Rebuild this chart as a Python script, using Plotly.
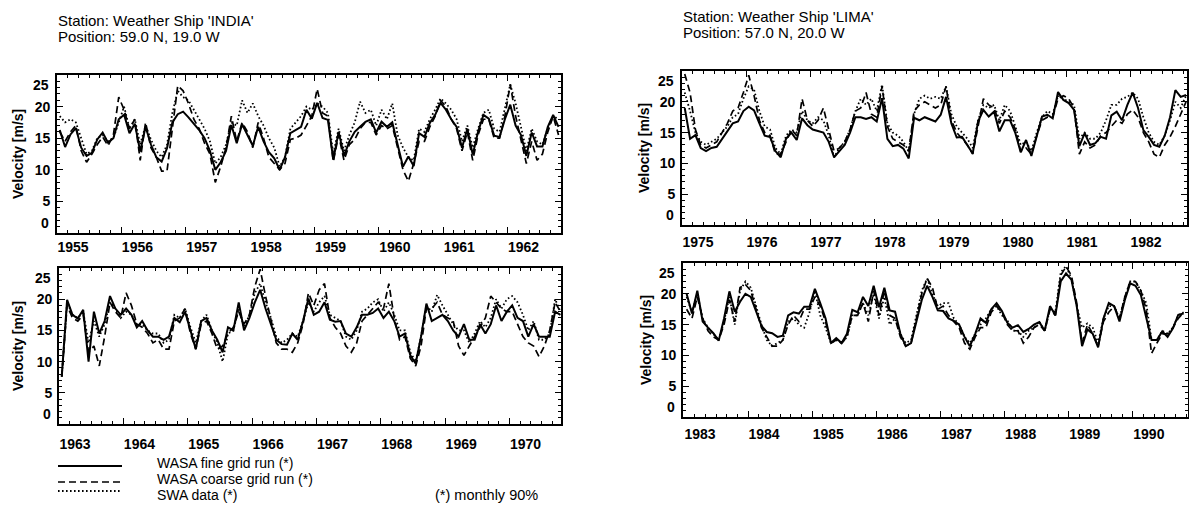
import plotly.graph_objects as go

W, H = 1189, 518

# ---------------- data (monthly 90% wind speed, m/s) ----------------
india1_start = 1955
india1_fine = [16.3, 13.6, 15.6, 16.6, 13.5, 12.2, 12.7, 14.8, 15.9, 14.3, 15.0, 18.0,
               18.7, 15.8, 17.3, 12.9, 16.8, 14.0, 12.0, 11.3, 13.4, 17.5, 18.8, 19.2,
               18.3, 17.3, 16.3, 15.0, 13.0, 10.0, 11.2, 13.0, 17.1, 14.2, 17.2, 15.5,
               13.8, 16.8, 14.5, 12.8, 11.8, 10.0, 12.0, 15.8, 16.3, 16.8, 19.5, 18.1,
               20.6, 18.2, 17.9, 11.6, 16.0, 12.2, 14.5, 16.0, 16.8, 17.6, 18.0, 15.9,
               17.6, 16.8, 17.5, 14.2, 10.5, 12.1, 10.6, 15.8, 15.2, 17.4, 18.7, 20.6,
               19.5, 18.0, 16.8, 13.5, 16.5, 12.4, 16.0, 18.7, 18.1, 15.4, 15.2, 18.0,
               20.3, 17.0, 15.5, 12.2, 15.9, 13.7, 13.7, 16.8, 18.7, 16.8]
india1_coarse = [16.0, 14.5, 16.0, 17.0, 13.0, 11.2, 12.5, 14.0, 15.2, 13.8, 15.5, 21.5,
                 19.5, 16.5, 18.0, 11.5, 17.5, 13.5, 12.0, 9.8, 9.8, 16.5, 23.3, 22.5,
                 20.5, 18.0, 16.5, 14.2, 12.5, 8.0, 10.5, 13.5, 18.5, 14.5, 17.5, 16.0,
                 13.5, 17.5, 15.0, 12.0, 11.0, 10.0, 11.0, 14.8, 15.0, 15.5, 17.0, 18.5,
                 22.8, 19.0, 18.5, 11.3, 15.5, 11.5, 14.0, 14.8, 16.5, 17.5, 17.5, 15.5,
                 17.0, 16.5, 17.0, 13.5, 10.0, 8.2, 11.0, 14.5, 14.5, 16.8, 18.5, 21.0,
                 20.0, 18.0, 16.5, 13.0, 16.0, 11.5, 15.5, 18.0, 18.0, 15.0, 15.0, 18.5,
                 23.5, 18.5, 15.0, 11.0, 14.5, 11.5, 12.5, 16.0, 18.5, 15.5]
india1_swa = [18.5, 17.5, 18.0, 17.5, 15.0, 12.5, 13.0, 15.0, 15.5, 14.5, 15.0, 17.5,
              20.0, 16.5, 18.0, 14.0, 17.0, 14.8, 13.0, 12.0, 14.0, 19.0, 22.5, 21.5,
              21.0, 19.5, 18.0, 16.5, 14.5, 11.0, 12.0, 14.0, 17.5, 17.0, 21.0, 19.0,
              20.5, 18.5, 17.0, 15.0, 13.5, 10.5, 12.0, 16.5, 17.5, 18.5, 20.0, 19.5,
              20.5, 20.0, 19.0, 12.5, 16.5, 13.0, 15.5, 17.5, 20.8, 19.0, 19.5, 17.0,
              19.5, 18.0, 20.5, 15.5, 13.5, 12.0, 11.5, 16.5, 16.0, 18.0, 19.5, 21.3,
              20.5, 19.5, 18.0, 14.5, 17.0, 13.5, 16.5, 19.0, 19.5, 16.5, 16.0, 19.5,
              23.5, 20.5, 17.0, 13.0, 16.5, 14.5, 14.0, 16.5, 18.5, 18.0]

india2_start = 1963
india2_fine = [7.6, 19.9, 17.5, 16.9, 18.3, 10.0, 18.0, 14.5, 16.5, 20.5, 18.5, 17.5,
               18.5, 17.5, 15.5, 16.5, 15.0, 14.0, 14.0, 13.5, 14.0, 17.0, 16.3, 18.0,
               15.0, 12.0, 16.5, 17.0, 15.0, 13.5, 11.5, 15.5, 15.0, 19.5, 15.0, 17.0,
               19.5, 21.5, 18.5, 16.0, 13.5, 12.8, 12.7, 14.5, 13.5, 16.5, 20.1, 17.5,
               18.0, 19.5, 16.7, 16.4, 16.5, 14.5, 14.0, 15.5, 17.5, 17.5, 17.8, 18.5,
               17.0, 18.0, 16.5, 14.0, 14.5, 11.0, 9.7, 14.0, 19.3, 16.5, 17.0, 17.5,
               16.5, 15.0, 14.0, 16.0, 13.5, 13.5, 16.0, 14.5, 16.0, 19.0, 16.5, 18.0,
               19.0, 17.0, 16.5, 14.0, 16.0, 14.0, 14.0, 14.0, 18.0, 17.5]
india2_coarse = [7.6, 19.0, 17.0, 16.5, 17.5, 11.5, 12.5, 9.3, 14.0, 19.5, 18.0, 17.0,
                 21.0, 19.0, 16.0, 15.5, 14.5, 13.0, 13.5, 12.0, 12.0, 16.5, 17.0, 18.5,
                 14.5, 12.0, 16.0, 16.5, 14.5, 12.0, 12.5, 14.5, 15.5, 18.0, 16.0, 17.5,
                 22.0, 24.8, 20.5, 16.5, 13.0, 12.0, 12.0, 11.5, 13.0, 16.0, 21.0, 19.0,
                 21.5, 22.5, 17.0, 15.5, 14.5, 12.5, 11.5, 13.0, 16.5, 17.5, 18.5, 19.5,
                 18.5, 22.5, 17.0, 13.5, 14.0, 10.5, 9.3, 12.5, 18.5, 18.5, 19.5, 17.5,
                 17.0, 16.5, 12.5, 11.0, 12.5, 14.0, 15.5, 17.0, 20.5, 19.5, 18.5, 18.0,
                 18.0, 16.0, 14.0, 13.0, 12.5, 10.8, 12.5, 15.0, 19.5, 18.0]
india2_swa = [7.6, 19.5, 17.5, 17.0, 18.0, 13.0, 16.5, 14.0, 16.0, 19.5, 18.5, 17.0,
              18.0, 17.5, 16.0, 16.0, 15.0, 14.5, 14.5, 13.0, 13.5, 17.5, 17.0, 18.5,
              15.5, 13.0, 16.5, 17.5, 15.0, 13.0, 10.0, 14.5, 15.0, 18.5, 15.5, 17.5,
              21.0, 22.5, 19.5, 17.0, 14.0, 13.0, 13.5, 14.5, 14.0, 16.5, 19.5, 18.0,
              19.5, 20.5, 17.5, 17.0, 16.5, 14.0, 13.5, 15.0, 18.0, 18.5, 19.5, 20.0,
              18.0, 19.5, 17.5, 15.0, 15.0, 11.5, 10.0, 14.0, 19.0, 18.0, 20.7, 19.0,
              17.5, 16.0, 15.0, 15.0, 13.0, 14.5, 16.5, 15.5, 17.0, 20.0, 18.5, 20.0,
              20.5, 19.5, 17.5, 15.0, 16.5, 13.5, 13.5, 14.5, 20.0, 18.0]

lima1_start = 1975
lima1_fine = [19.0, 14.0, 14.6, 12.5, 12.0, 12.5, 12.7, 14.0, 15.2, 16.5, 16.8, 18.5,
              19.2, 18.6, 16.5, 14.5, 14.3, 12.0, 11.0, 14.0, 15.0, 13.8, 17.3, 16.2,
              15.5, 15.3, 15.0, 13.5, 11.0, 12.0, 13.0, 15.0, 17.5, 17.5, 17.2, 17.5,
              16.8, 20.6, 14.0, 12.8, 13.0, 12.4, 10.8, 17.4, 17.0, 17.5, 17.2, 16.8,
              17.9, 20.8, 16.5, 14.2, 14.3, 13.0, 11.6, 16.8, 18.7, 17.6, 18.4, 15.2,
              17.0, 17.0, 14.9, 11.8, 13.8, 11.2, 14.6, 17.6, 17.9, 17.3, 21.6, 20.3,
              19.8, 18.7, 12.8, 14.9, 13.0, 13.3, 14.3, 14.0, 17.8, 18.4, 17.0, 19.5,
              21.5, 19.0, 15.4, 14.3, 13.0, 12.7, 14.5, 17.5, 21.9, 20.8, 21.1]
lima1_coarse = [24.5, 21.5, 15.5, 13.0, 12.5, 13.0, 13.5, 15.0, 16.5, 18.5, 19.0, 21.5,
                24.3, 21.0, 17.0, 15.0, 14.5, 11.5, 11.5, 13.5, 15.5, 14.5, 20.5, 17.0,
                16.0, 17.0, 19.0, 15.5, 12.0, 12.5, 13.5, 15.5, 18.5, 19.0, 21.5, 18.0,
                17.5, 22.5, 16.0, 14.0, 13.5, 13.0, 12.0, 18.5, 19.5, 20.0, 19.5, 19.0,
                19.5, 22.5, 17.0, 15.0, 14.0, 13.0, 11.5, 16.0, 20.5, 19.5, 19.0, 16.5,
                18.5, 17.5, 15.5, 12.0, 12.5, 11.5, 14.5, 17.0, 17.5, 17.5, 20.5, 21.0,
                20.5, 19.0, 11.5, 13.5, 12.5, 13.0, 14.5, 15.0, 16.0, 17.0, 16.5, 18.0,
                18.7, 17.5, 15.0, 13.5, 11.5, 11.0, 13.0, 14.3, 16.0, 18.0, 20.0]
lima1_swa = [21.5, 18.5, 15.0, 13.5, 13.0, 13.5, 14.0, 15.0, 16.0, 17.5, 18.0, 20.5,
             22.5, 22.0, 18.5, 16.0, 15.5, 12.5, 11.5, 14.5, 15.5, 15.0, 18.5, 17.0,
             16.5, 17.5, 17.0, 14.5, 11.0, 12.5, 13.5, 15.5, 18.5, 20.5, 19.5, 20.5,
             18.5, 22.8, 16.5, 15.0, 14.5, 13.5, 12.0, 18.0, 20.5, 21.0, 20.5, 20.8,
             20.5, 22.5, 18.0, 16.0, 15.0, 14.0, 12.5, 17.0, 19.5, 19.0, 19.5, 17.0,
             19.5, 18.5, 16.0, 13.0, 13.5, 12.0, 15.0, 17.5, 18.5, 18.0, 21.0, 20.5,
             20.0, 19.5, 14.0, 15.0, 14.0, 14.0, 15.0, 17.0, 19.5, 19.5, 20.5, 20.8,
             21.5, 20.5, 17.5, 15.0, 13.5, 13.0, 14.5, 17.0, 20.0, 19.0, 21.0]

lima2_start = 1983
lima2_fine = [20.0, 16.8, 20.5, 15.5, 14.5, 13.6, 12.4, 16.0, 20.4, 17.1, 18.7, 20.0,
              19.5, 17.0, 14.8, 13.8, 13.6, 13.0, 13.2, 16.5, 17.0, 16.8, 17.9, 17.9,
              20.8, 18.5, 16.0, 12.0, 12.8, 12.0, 13.5, 17.4, 17.0, 19.5, 18.0, 21.3,
              17.8, 21.0, 17.3, 17.1, 13.5, 11.5, 12.0, 15.5, 19.0, 21.3, 19.5, 17.3,
              17.2, 16.0, 15.6, 15.0, 13.0, 11.5, 13.5, 16.0, 15.3, 17.5, 18.5, 17.2,
              15.3, 14.5, 14.9, 13.8, 14.3, 15.0, 15.4, 14.0, 18.0, 16.5, 22.0, 23.3,
              22.3, 18.0, 11.5, 14.2, 13.5, 11.3, 16.0, 18.5, 18.0, 15.5, 19.0, 21.7,
              21.3, 19.8, 16.0, 12.5, 12.5, 13.9, 13.0, 14.4, 16.6, 16.8]
lima2_coarse = [17.5, 16.0, 19.5, 16.0, 14.0, 13.0, 12.5, 15.0, 19.0, 15.5, 21.0, 21.5,
                20.5, 17.5, 14.5, 13.0, 11.5, 11.5, 12.5, 15.0, 16.5, 15.5, 17.5, 17.5,
                19.5, 18.0, 15.5, 12.0, 12.5, 12.0, 13.0, 16.5, 16.5, 18.5, 15.5, 20.5,
                16.5, 20.5, 16.5, 16.0, 13.0, 11.5, 12.0, 16.0, 20.0, 22.5, 21.0, 17.5,
                18.0, 16.5, 15.5, 14.5, 12.0, 11.0, 13.0, 14.5, 14.5, 17.0, 18.0, 17.0,
                15.0, 14.0, 14.0, 12.0, 13.0, 14.5, 15.0, 14.0, 17.5, 16.5, 23.0, 24.4,
                23.0, 18.5, 12.0, 15.0, 13.5, 11.5, 15.5, 17.0, 18.0, 16.0, 19.5, 22.0,
                22.0, 20.5, 17.5, 10.3, 12.0, 13.5, 13.5, 14.5, 16.0, 17.0]
lima2_swa = [19.5, 17.0, 20.0, 16.0, 14.5, 13.5, 12.5, 15.5, 19.5, 15.0, 20.5, 22.0,
             21.0, 18.0, 15.0, 12.5, 11.5, 12.0, 12.5, 15.5, 16.0, 15.0, 14.5, 17.0,
             20.5, 16.5, 14.5, 12.0, 12.5, 12.0, 13.0, 16.5, 16.5, 18.5, 16.5, 20.0,
             16.0, 19.5, 15.0, 16.0, 13.5, 12.0, 12.5, 16.5, 20.5, 22.5, 20.0, 18.0,
             18.5, 18.5, 16.0, 15.0, 13.0, 12.0, 13.5, 15.0, 16.0, 17.5, 18.0, 16.5,
             15.7, 14.0, 14.0, 13.0, 14.0, 14.5, 15.5, 14.0, 17.5, 17.0, 23.5, 24.5,
             22.5, 18.0, 14.5, 15.2, 14.5, 12.0, 16.0, 18.0, 18.0, 16.0, 19.5, 22.0,
             22.0, 20.5, 18.5, 12.5, 12.5, 14.0, 13.5, 14.5, 16.5, 17.0]

titles = [("Station: Weather Ship 'INDIA'", "Position: 59.0 N, 19.0 W"),
          ("Station: Weather Ship 'LIMA'", "Position: 57.0 N, 20.0 W")]
legend_names = ["WASA fine grid run (*)", "WASA coarse grid run (*)", "SWA data (*)"]
footnote = "(*) monthly 90%"
y_title = "Velocity [m/s]"

# ---------------- layout geometry (pixels) ----------------
FONT = "Liberation Sans, Arial, Helvetica, sans-serif"
panels = [
    # start year, series, pixel box (left, top, right, bottom), x-range, label standoff
    (india1_start, (india1_fine, india1_coarse, india1_swa), (57, 75, 561, 233), (1954.999, 1962.83), 8),
    (india2_start, (india2_fine, india2_coarse, india2_swa), (59, 268, 561, 424), (1962.999, 1970.80), 14),
    (lima1_start, (lima1_fine, lima1_coarse, lima1_swa), (682, 71, 1187, 225), (1974.999, 1982.89), 11),
    (lima2_start, (lima2_fine, lima2_coarse, lima2_swa), (683, 263, 1188, 417), (1982.985, 1990.86), 11),
]
ytitle_x = [18, 18, 644, 646]

def px_x(p):
    return p / W

def px_y(p):
    return 1 - p / H

fig = go.Figure()
styles = [dict(color="black", width=2.0),
          dict(color="black", width=1.7, dash="7px,4px"),
          dict(color="black", width=1.8, dash="1.6px,2.4px")]

annotations = []
for i, (y0, series, box, xr, standoff) in enumerate(panels):
    n = i + 1
    xa = "x" if n == 1 else f"x{n}"
    ya = "y" if n == 1 else f"y{n}"
    l, t, r, b = box
    for s, vals in enumerate(series):
        xs = [y0 + (k + 0.5) / 12 for k in range(len(vals))]
        fig.add_trace(go.Scatter(x=xs, y=vals, mode="lines", line=styles[s],
                                 xaxis=xa, yaxis=ya, showlegend=False,
                                 hoverinfo="skip"))
    xkey = "xaxis" if n == 1 else f"xaxis{n}"
    ykey = "yaxis" if n == 1 else f"yaxis{n}"
    fig.layout[xkey] = dict(
        domain=[px_x(l), px_x(r)], range=list(xr), anchor=ya,
        showgrid=False, zeroline=False, showline=True, linecolor="black",
        linewidth=1.8, mirror="ticks", ticks="inside", ticklen=6, tickwidth=1.4,
        tickcolor="black", tick0=y0, dtick=1, tickformat="d",
        ticklabelshift=16, ticklabelstandoff=standoff - 8,
        tickfont=dict(family=FONT, size=14, color="black", weight="bold"),
        minor=dict(ticks="inside", dtick=1 / 6, ticklen=3, tickwidth=1, tickcolor="black"),
    )
    fig.layout[ykey] = dict(
        domain=[px_y(b), px_y(t)], range=[0, 25], anchor=xa,
        showgrid=False, zeroline=False, showline=True, linecolor="black",
        linewidth=1.8, mirror="ticks", ticks="inside", ticklen=6, tickwidth=1.4,
        tickcolor="black", tickvals=[0, 5, 10, 15, 20, 25],
        ticktext=["", "5", "10", "15", "20", ""], ticklabelstandoff=2,
        tickfont=dict(family=FONT, size=14, color="black", weight="bold"),
        minor=dict(ticks="inside", dtick=1, ticklen=3, tickwidth=1, tickcolor="black"),
    )
    # end labels pushed inside the axis extent
    annotations.append(dict(text="25", xref="paper", yref=ya, x=px_x(l - 6), y=25,
                            xanchor="right", yanchor="top", showarrow=False,
                            font=dict(family=FONT, size=14, color="black", weight="bold")))
    annotations.append(dict(text="0", xref="paper", yref=ya, x=px_x(l - 6), y=0,
                            xanchor="right", yanchor="bottom", showarrow=False,
                            font=dict(family=FONT, size=14, color="black", weight="bold")))
    annotations.append(dict(text=y_title, xref="paper", yref="paper",
                            x=px_x(ytitle_x[i]), y=px_y((t + b) / 2), textangle=-90,
                            xanchor="center", yanchor="middle", showarrow=False,
                            font=dict(family=FONT, size=14, color="black", weight="bold")))

# titles (two tightly stacked lines)
for (l1, l2), (x0, y1, y2) in zip(titles, [(56, 20, 37), (681, 16, 33)]):
    annotations.append(dict(text=l1, xref="paper", yref="paper", x=px_x(x0), y=px_y(y1),
                            xanchor="left", yanchor="middle", showarrow=False,
                            font=dict(family=FONT, size=15, color="black")))
    annotations.append(dict(text=l2, xref="paper", yref="paper", x=px_x(x0), y=px_y(y2),
                            xanchor="left", yanchor="middle", showarrow=False,
                            font=dict(family=FONT, size=15, color="black")))

# legend (drawn manually)
shapes = []
leg_rows = [(466, 463), (482, 479), (491, 495)]
for s, ((ly, ty), name) in enumerate(zip(leg_rows, legend_names)):
    st = styles[s]
    shapes.append(dict(type="line", xref="paper", yref="paper",
                       x0=px_x(58), x1=px_x(122), y0=px_y(ly), y1=px_y(ly),
                       line=dict(color="black", width=st["width"], dash=st.get("dash", "solid"))))
    annotations.append(dict(text=name, xref="paper", yref="paper", x=px_x(155), y=px_y(ty),
                            xanchor="left", yanchor="middle", showarrow=False,
                            font=dict(family=FONT, size=14, color="black")))
annotations.append(dict(text=footnote, xref="paper", yref="paper", x=px_x(433), y=px_y(495),
                        xanchor="left", yanchor="middle", showarrow=False,
                        font=dict(family=FONT, size=14.5, color="black")))

fig.update_layout(width=W, height=H, margin=dict(l=0, r=0, t=0, b=0),
                  paper_bgcolor="white", plot_bgcolor="white",
                  annotations=annotations, shapes=shapes, showlegend=False)

fig.write_html("out.html", include_plotlyjs=True, full_html=True,
               config={"displayModeBar": False})
